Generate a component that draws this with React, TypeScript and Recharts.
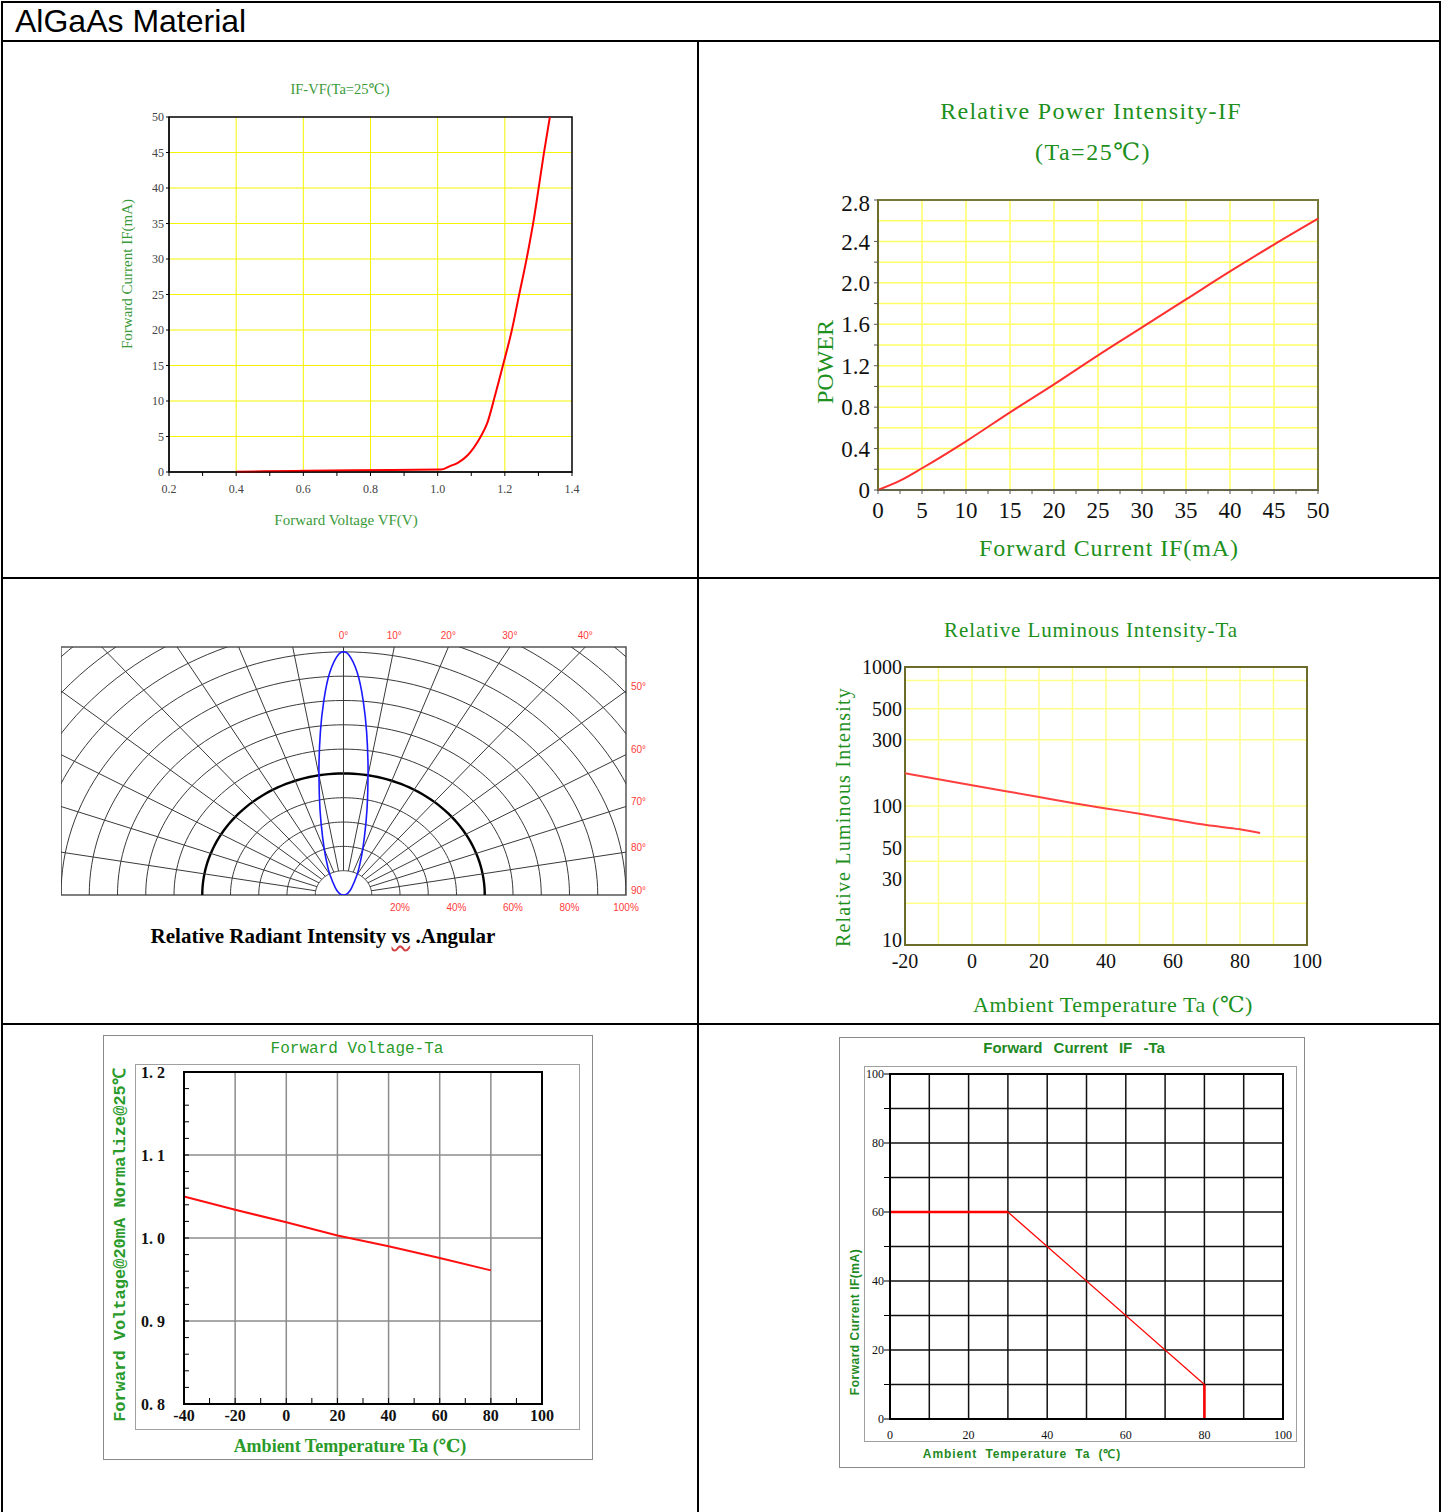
import React from "react";
import {
  LineChart,
  Line,
  XAxis,
  YAxis,
  CartesianGrid,
  ReferenceArea,
  ReferenceDot,
} from "recharts";

const SERIF = '"Liberation Serif", "DejaVu Serif", serif';
const SANS = '"Liberation Sans", Arial, sans-serif';
const MONO = '"Liberation Mono", "DejaVu Sans Mono", monospace';

// IF-VF (Ta=25℃)
const vfVolts = [0.4, 0.57, 0.75, 1.01, 1.035, 1.06, 1.09, 1.127, 1.147, 1.171, 1.196, 1.221, 1.241, 1.266, 1.286, 1.301, 1.316, 1.334];
const vfCurrent = [0.05, 0.15, 0.25, 0.35, 0.8, 1.3, 2.4, 4.9, 6.8, 10.8, 15.3, 20, 24.6, 30.3, 35.5, 40.1, 44.8, 50];
const vfTicks = [0.2, 0.3, 0.4, 0.5, 0.6, 0.7, 0.8, 0.9, 1.0, 1.1, 1.2, 1.3, 1.4];
const vfCurrentTicks = [0, 5, 10, 15, 20, 25, 30, 35, 40, 45, 50];

// Relative power intensity vs IF
const powerCurrent = [0, 2.5, 5, 10, 15, 20, 25, 30, 35, 40, 45, 50];
const powerRelative = [0, 0.09, 0.21, 0.47, 0.75, 1.02, 1.3, 1.57, 1.84, 2.11, 2.37, 2.62];
const powerXTicks = [0, 2.5, 5, 7.5, 10, 12.5, 15, 17.5, 20, 22.5, 25, 27.5, 30, 32.5, 35, 37.5, 40, 42.5, 45, 47.5, 50];
const powerYTicks = [0, 0.2, 0.4, 0.6, 0.8, 1.0, 1.2, 1.4, 1.6, 1.8, 2.0, 2.2, 2.4, 2.6, 2.8];

// Radiation pattern (angle in degrees, relative intensity in %)
const beamAngle = [-90, -75, -60, -45, -30, -25, -20, -15, -12, -10, -9, -7, -5, -3, -1, 0, 1, 3, 5, 7, 9, 10, 12, 15, 20, 25, 30, 45, 60, 75, 90];
const beamIntensity = [0, 1, 2, 4, 9.6, 13.5, 19.8, 30.7, 41, 50, 55.4, 67.3, 80.1, 91.8, 99, 100, 99, 91.8, 80.1, 67.3, 55.4, 50, 41, 30.7, 19.8, 13.5, 9.6, 4, 2, 1, 0];
const polarRadii = [10, 20, 30, 40, 50, 60, 70, 80, 90, 100, 110, 120, 130, 140];
const polarSpokes = [-80, -70, -60, -50, -40, -30, -20, -10, 0, 10, 20, 30, 40, 50, 60, 70, 80];
const topAngleLabels = [0, 10, 20, 30, 40];
const sideAngleLabels = [50, 60, 70, 80, 90];
const percentTicks = [20, 40, 60, 80, 100];

// Relative luminous intensity vs Ta
const lumTemp = [-20, 0, 20, 30, 40, 50, 60, 70, 80, 86];
const lumIntensity = [172, 141, 116, 105, 96, 88, 80, 73, 68, 64];
const lumYTicks = [10, 30, 50, 100, 300, 500, 1000];
const lumXTicks = [-20, 0, 20, 40, 60, 80, 100];

// Forward voltage vs Ta
const fvTemp = [-40, -20, 0, 20, 40, 60, 80];
const fvNorm = [1.05, 1.034, 1.019, 1.003, 0.99, 0.976, 0.961];
const fvXTicks = [-40, -20, 0, 20, 40, 60, 80, 100];
const fvXMinor = [-40, -30, -20, -10, 0, 10, 20, 30, 40, 50, 60, 70, 80, 90, 100];
const fvYTicks = [0.8, 0.9, 1.0, 1.1, 1.2];
const fvYMinor = [0.8, 0.82, 0.84, 0.86, 0.88, 0.9, 0.92, 0.94, 0.96, 0.98, 1.0, 1.02, 1.04, 1.06, 1.08, 1.1, 1.12, 1.14, 1.16, 1.18, 1.2];

// Forward current derating vs Ta
const derateTemp = [0, 30, 80, 80];
const derateCurrent = [60, 60, 10, 0];
const derateYTicks = [0, 10, 20, 30, 40, 50, 60, 70, 80, 90, 100];
const derateXTicks = [0, 20, 40, 60, 80, 100];

const RED_LABEL = "#ff3b3b";

const Box = ({ left, top, children }: any) => (
  <div style={{ position: "absolute", left, top }}>{children}</div>
);

const Rule = ({ x, y, w, h }: any) => (
  <div style={{ position: "absolute", left: x, top: y, width: w, height: h, background: "#000" }} />
);

const Frame = ({ x, y, w, h, color }: any) => (
  <div
    style={{
      position: "absolute",
      left: x,
      top: y,
      width: w,
      height: h,
      border: `1px solid ${color}`,
      boxSizing: "border-box",
    }}
  />
);

function Txt({ x, y, size, color = "#000", font = SERIF, weight = 400, rotate = false, style, children }: any) {
  return (
    <div
      style={{
        position: "absolute",
        left: x,
        top: y,
        fontSize: size,
        color,
        fontFamily: font,
        fontWeight: weight,
        lineHeight: 1,
        whiteSpace: "nowrap",
        transform: `translate(-50%, -50%)${rotate ? " rotate(-90deg)" : ""}`,
        ...style,
      }}
    >
      {children}
    </div>
  );
}

function IfVfChart() {
  const green = "#3a9a3a";
  const data = vfVolts.map((v, i) => ({ v, i: vfCurrent[i] }));
  return (
    <>
      <Txt x={340} y={89} size={14.5} color={green}>IF-VF(Ta=25℃)</Txt>
      <Txt x={127} y={274} size={15} color={green} rotate>Forward Current IF(mA)</Txt>
      <Txt x={346} y={520} size={15} color={green}>Forward Voltage VF(V)</Txt>
      <Box left={139} top={107}>
        <LineChart width={443} height={390} data={data} margin={{ top: 10, right: 10, left: 0, bottom: 0 }}>
          <CartesianGrid
            stroke="#f4f400"
            verticalValues={[0.4, 0.6, 0.8, 1.0, 1.2]}
            horizontalValues={[5, 10, 15, 20, 25, 30, 35, 40, 45]}
          />
          <XAxis
            dataKey="v"
            type="number"
            domain={[0.2, 1.4]}
            ticks={vfTicks}
            tickFormatter={(v: number) => (Math.round(v * 10) % 2 === 0 ? v.toFixed(1) : "")}
            height={25}
            tickSize={4}
            tickMargin={8}
            stroke="#000"
            tick={{ fontSize: 12, fill: "#444", fontFamily: SERIF }}
          />
          <YAxis
            type="number"
            domain={[0, 50]}
            ticks={vfCurrentTicks}
            width={30}
            tickSize={3}
            tickMargin={2}
            stroke="#000"
            tick={{ fontSize: 12, fill: "#444", fontFamily: SERIF }}
          />
          <ReferenceArea x1={0.2} x2={1.4} y1={0} y2={50} fill="none" stroke="#000" strokeWidth={1.5} />
          <Line dataKey="i" type="monotone" stroke="#ff0000" strokeWidth={2} dot={false} isAnimationActive={false} />
        </LineChart>
      </Box>
    </>
  );
}

function PowerChart() {
  const green = "#1d901d";
  const data = powerCurrent.map((c, i) => ({ c, p: powerRelative[i] }));
  const tick = { fontSize: 23, fill: "#111", fontFamily: SERIF };
  return (
    <>
      <Txt x={1091} y={111} size={24} color={green} style={{ letterSpacing: 1.3 }}>Relative Power Intensity-IF</Txt>
      <Txt x={1093} y={152} size={24} color={green} style={{ letterSpacing: 1.5 }}>(Ta=25℃)</Txt>
      <Txt x={825} y={362} size={24} color={green} rotate>POWER</Txt>
      <Txt x={1109} y={548} size={24} color={green} style={{ letterSpacing: 0.9 }}>Forward Current IF(mA)</Txt>
      <Box left={828} top={190}>
        <LineChart width={510} height={335} data={data} margin={{ top: 10, right: 20, left: 0, bottom: 0 }}>
          <CartesianGrid
            stroke="#ffff66"
            strokeWidth={1.5}
            verticalValues={[5, 10, 15, 20, 25, 30, 35, 40, 45]}
            horizontalValues={[0.2, 0.4, 0.6, 0.8, 1.0, 1.2, 1.4, 1.6, 1.8, 2.0, 2.2, 2.4, 2.6]}
          />
          <XAxis
            dataKey="c"
            type="number"
            domain={[0, 50]}
            ticks={powerXTicks}
            tickFormatter={(v: number) => (v % 5 === 0 ? String(v) : "")}
            height={35}
            tickSize={4}
            tickMargin={8}
            stroke="#555"
            tick={tick}
          />
          <YAxis
            type="number"
            domain={[0, 2.8]}
            ticks={powerYTicks}
            tickFormatter={(v: number) => (Math.round(v * 10) % 4 === 0 ? (v === 0 ? "0" : v.toFixed(1)) : "")}
            width={50}
            tickSize={4}
            tickMargin={4}
            stroke="#555"
            axisLine={{ stroke: "#6e6e28", strokeWidth: 2 }}
            tick={tick}
          />
          <ReferenceArea x1={0} x2={50} y1={0} y2={2.8} fill="none" stroke="#77773a" strokeWidth={2} />
          <Line dataKey="p" type="monotone" stroke="#ff3030" strokeWidth={2} dot={false} isAnimationActive={false} />
        </LineChart>
      </Box>
    </>
  );
}

const rad = (d: number) => (d * Math.PI) / 180;
const polarPoint = (deg: number, r: number) => ({ x: r * Math.sin(rad(deg)), y: r * Math.cos(rad(deg)) });
const arcDegrees = Array.from({ length: 91 }, (_, i) => -90 + i * 2);

function PolarChart() {
  const beam = beamAngle.map((a, i) => polarPoint(a, beamIntensity[i]));
  const labelStyle = { fill: RED_LABEL, fontSize: 10, fontFamily: SANS };
  return (
    <>
      <Box left={61} top={617}>
        <LineChart width={605} height={303} margin={{ top: 30, right: 40, left: 0, bottom: 0 }}>
          <XAxis
            dataKey="x"
            type="number"
            domain={[-100, 100]}
            allowDataOverflow
            ticks={percentTicks}
            tickFormatter={(v: number) => `${v}%`}
            axisLine={false}
            tickLine={false}
            tickSize={0}
            tickMargin={9}
            height={25}
            tick={labelStyle}
          />
          <YAxis type="number" domain={[0, 102]} allowDataOverflow hide />
          {polarRadii.map((r) => (
            <Line
              key={`arc${r}`}
              data={arcDegrees.map((a) => polarPoint(a, r))}
              dataKey="y"
              type="linear"
              stroke={r === 50 ? "#000" : "#3a3a3a"}
              strokeWidth={r === 50 ? 2.4 : 1}
              dot={false}
              isAnimationActive={false}
            />
          ))}
          {polarSpokes.map((a) => (
            <Line
              key={`spoke${a}`}
              data={[polarPoint(a, 10), polarPoint(a, 170)]}
              dataKey="y"
              type="linear"
              stroke="#3a3a3a"
              strokeWidth={1}
              dot={false}
              isAnimationActive={false}
            />
          ))}
          <ReferenceArea x1={-100} x2={100} y1={0} y2={102} fill="none" stroke="#555" strokeWidth={1.5} />
          <Line data={beam} dataKey="y" type="natural" stroke="#1a1aff" strokeWidth={1.6} dot={false} isAnimationActive={false} />
          {topAngleLabels.map((a) => (
            <ReferenceDot
              key={`t${a}`}
              x={102 * Math.tan(rad(a))}
              y={102}
              r={1}
              fill="none"
              stroke="none"
              ifOverflow="visible"
              label={{ value: `${a}°`, position: "top", offset: 7, ...labelStyle }}
            />
          ))}
          {sideAngleLabels.map((a) => (
            <ReferenceDot
              key={`s${a}`}
              x={100}
              y={a === 90 ? 0 : 100 / Math.tan(rad(a))}
              r={1}
              fill="none"
              stroke="none"
              ifOverflow="visible"
              label={{ value: `${a}°`, position: "right", offset: 4, dy: -5, ...labelStyle }}
            />
          ))}
        </LineChart>
      </Box>
      <Txt x={323} y={936} size={21} weight={700}>
        Relative Radiant Intensity{" "}
        <span style={{ textDecoration: "underline wavy #d04040" }}>vs</span> .Angular
      </Txt>
    </>
  );
}

const LumYTick = ({ x, y, payload }: any) => (
  <text
    x={x}
    y={payload.value === 10 ? y - 5 : y}
    dy="0.355em"
    textAnchor="end"
    fontSize={20}
    fill="#111"
    fontFamily={SERIF}
  >
    {payload.value}
  </text>
);

function LuminousChart() {
  const green = "#1d901d";
  const data = lumTemp.map((t, i) => ({ t, l: lumIntensity[i] }));
  const tick = { fontSize: 20, fill: "#111", fontFamily: SERIF };
  return (
    <>
      <Txt x={1091} y={630} size={21} color={green} style={{ letterSpacing: 0.9 }}>Relative Luminous Intensity-Ta</Txt>
      <Txt x={843} y={817} size={20} color={green} rotate style={{ letterSpacing: 1.2 }}>Relative Luminous Intensity</Txt>
      <Txt x={1113} y={1005} size={22} color={green} style={{ letterSpacing: 0.6 }}>Ambient Temperature Ta (℃)</Txt>
      <Box left={855} top={657}>
        <LineChart width={472} height={323} data={data} margin={{ top: 10, right: 20, left: 0, bottom: 0 }}>
          <CartesianGrid
            stroke="#ffff8c"
            strokeWidth={1.5}
            verticalValues={[-10, 0, 10, 20, 30, 40, 50, 60, 70, 80, 90]}
            horizontalValues={[20, 30, 40, 50, 60, 70, 80, 90, 100, 300, 400, 500, 600, 700, 800]}
          />
          <XAxis
            dataKey="t"
            type="number"
            domain={[-20, 100]}
            ticks={lumXTicks}
            height={35}
            tickLine={false}
            tickSize={0}
            tickMargin={9}
            axisLine={false}
            tick={tick}
          />
          <YAxis
            type="number"
            scale="log"
            domain={[10, 1000]}
            allowDataOverflow
            ticks={lumYTicks}
            width={50}
            tickLine={false}
            tickSize={0}
            tickMargin={3}
            axisLine={false}
            tick={<LumYTick />}
          />
          <ReferenceArea x1={-20} x2={100} y1={10} y2={1000} fill="none" stroke="#6b6b2a" strokeWidth={2} />
          <Line dataKey="l" type="monotone" stroke="#ff4040" strokeWidth={2} dot={false} isAnimationActive={false} />
        </LineChart>
      </Box>
    </>
  );
}

function VoltageTaChart() {
  const green = "#2a9a2a";
  const data = fvTemp.map((t, i) => ({ t, v: fvNorm[i] }));
  const tick = { fontSize: 16, fill: "#111", fontFamily: SERIF, fontWeight: 700 };
  return (
    <>
      <Frame x={103} y={1035} w={490} h={425} color="#8a8a8a" />
      <Frame x={135} y={1064} w={445} h={366} color="#a0a0a0" />
      <Txt x={357} y={1049} size={16} color={green} font={MONO}>Forward Voltage-Ta</Txt>
      <Txt x={120} y={1245} size={17} color={green} font={MONO} weight={700} rotate>
        Forward Voltage@20mA Normalize@25℃
      </Txt>
      <Txt x={350} y={1446} size={18} color={green} weight={700}>Ambient Temperature Ta (℃)</Txt>
      <Box left={134} top={1062}>
        <LineChart width={428} height={372} data={data} margin={{ top: 10, right: 20, left: 0, bottom: 0 }}>
          <CartesianGrid
            stroke="#8c8c8c"
            strokeWidth={1.5}
            verticalValues={[-20, 0, 20, 40, 60, 80]}
            horizontalValues={[0.9, 1.0, 1.1]}
          />
          <XAxis
            dataKey="t"
            type="number"
            domain={[-40, 100]}
            ticks={fvXTicks}
            height={30}
            tickLine={false}
            tickSize={0}
            tickMargin={6}
            axisLine={{ stroke: "#000", strokeWidth: 2 }}
            tick={tick}
          />
          <XAxis
            xAxisId="minor"
            dataKey="t"
            type="number"
            domain={[-40, 100]}
            allowDataOverflow
            ticks={fvXMinor}
            mirror
            axisLine={false}
            tickSize={6}
            stroke="#000"
            tickFormatter={() => ""}
          />
          <YAxis
            type="number"
            domain={[0.8, 1.2]}
            ticks={fvYTicks}
            tickFormatter={(v: number) => v.toFixed(1).replace(".", ". ")}
            width={50}
            tickLine={false}
            tickSize={0}
            tickMargin={19}
            axisLine={{ stroke: "#000", strokeWidth: 2 }}
            tick={tick}
          />
          <YAxis
            yAxisId="minor"
            type="number"
            domain={[0.8, 1.2]}
            allowDataOverflow
            ticks={fvYMinor}
            mirror
            axisLine={false}
            tickSize={5}
            stroke="#000"
            tickFormatter={() => ""}
          />
          <ReferenceArea x1={-40} x2={100} y1={0.8} y2={1.2} fill="none" stroke="#000" strokeWidth={2} />
          {/* carrier series so the minor-tick axes get a scale; drawn without stroke */}
          <Line xAxisId="minor" yAxisId="minor" dataKey="v" stroke="none" dot={false} isAnimationActive={false} />
          <Line dataKey="v" type="linear" stroke="#ff1010" strokeWidth={2} dot={false} isAnimationActive={false} />
        </LineChart>
      </Box>
    </>
  );
}

function CurrentTaChart() {
  const green = "#1f8a1f";
  const pts = derateTemp.map((t, i) => ({ t, c: derateCurrent[i] }));
  const tick = { fontSize: 12, fill: "#111", fontFamily: SERIF };
  return (
    <>
      <Frame x={839} y={1037} w={466} h={431} color="#8a8a8a" />
      <Frame x={864} y={1066} w={433} h={376} color="#a0a0a0" />
      <Txt x={1074} y={1047} size={15} color={green} font={SANS} weight={700} style={{ wordSpacing: 7 }}>
        Forward Current IF -Ta
      </Txt>
      <Txt x={855} y={1322} size={12} color={green} font={SANS} weight={700} rotate style={{ letterSpacing: 0.5 }}>
        Forward Current IF(mA)
      </Txt>
      <Txt x={1022} y={1454} size={12} color={green} font={SANS} weight={700} style={{ letterSpacing: 0.9, wordSpacing: 4 }}>
        Ambient Temperature Ta (℃)
      </Txt>
      <Box left={864} top={1064}>
        <LineChart width={434} height={380} margin={{ top: 10, right: 15, left: 0, bottom: 0 }}>
          <CartesianGrid
            stroke="#111"
            strokeWidth={1.5}
            verticalValues={[10, 20, 30, 40, 50, 60, 70, 80, 90]}
            horizontalValues={[10, 20, 30, 40, 50, 60, 70, 80, 90]}
          />
          <XAxis
            dataKey="t"
            type="number"
            domain={[0, 100]}
            ticks={derateXTicks}
            height={25}
            tickLine={false}
            tickSize={0}
            tickMargin={11}
            axisLine={{ stroke: "#000", strokeWidth: 2 }}
            tick={tick}
          />
          <YAxis
            type="number"
            domain={[0, 100]}
            ticks={derateYTicks}
            tickFormatter={(v: number) => (v % 20 === 0 ? String(v) : "")}
            width={26}
            tickSize={6}
            tickMargin={0}
            stroke="#000"
            axisLine={{ stroke: "#000", strokeWidth: 2 }}
            tick={tick}
          />
          <ReferenceArea x1={0} x2={100} y1={0} y2={100} fill="none" stroke="#000" strokeWidth={2} />
          <Line data={pts.slice(0, 2)} dataKey="c" type="linear" stroke="#ff0000" strokeWidth={2.5} dot={false} isAnimationActive={false} />
          <Line data={pts.slice(1, 3)} dataKey="c" type="linear" stroke="#ff0000" strokeWidth={1.2} dot={false} isAnimationActive={false} />
          <Line data={pts.slice(2, 4)} dataKey="c" type="linear" stroke="#ff0000" strokeWidth={2.5} dot={false} isAnimationActive={false} />
        </LineChart>
      </Box>
    </>
  );
}

export default function App() {
  return (
    <div
      style={{
        position: "absolute",
        left: 0,
        top: 0,
        width: 1442,
        height: 1512,
        background: "#fff",
        overflow: "hidden",
        fontFamily: SERIF,
      }}
    >
      <Rule x={1} y={1} w={1440} h={2} />
      <Rule x={1} y={1} w={2} h={1511} />
      <Rule x={1439} y={1} w={2} h={1511} />
      <Rule x={1} y={40} w={1440} h={2} />
      <Rule x={697} y={40} w={2} h={1472} />
      <Rule x={1} y={577} w={1440} h={2} />
      <Rule x={1} y={1023} w={1440} h={2} />
      <div
        style={{
          position: "absolute",
          left: 15,
          top: 5,
          fontSize: 32,
          lineHeight: "32px",
          fontFamily: SANS,
          color: "#000",
          whiteSpace: "nowrap",
        }}
      >
        AlGaAs Material
      </div>
      <IfVfChart />
      <PowerChart />
      <PolarChart />
      <LuminousChart />
      <VoltageTaChart />
      <CurrentTaChart />
    </div>
  );
}
